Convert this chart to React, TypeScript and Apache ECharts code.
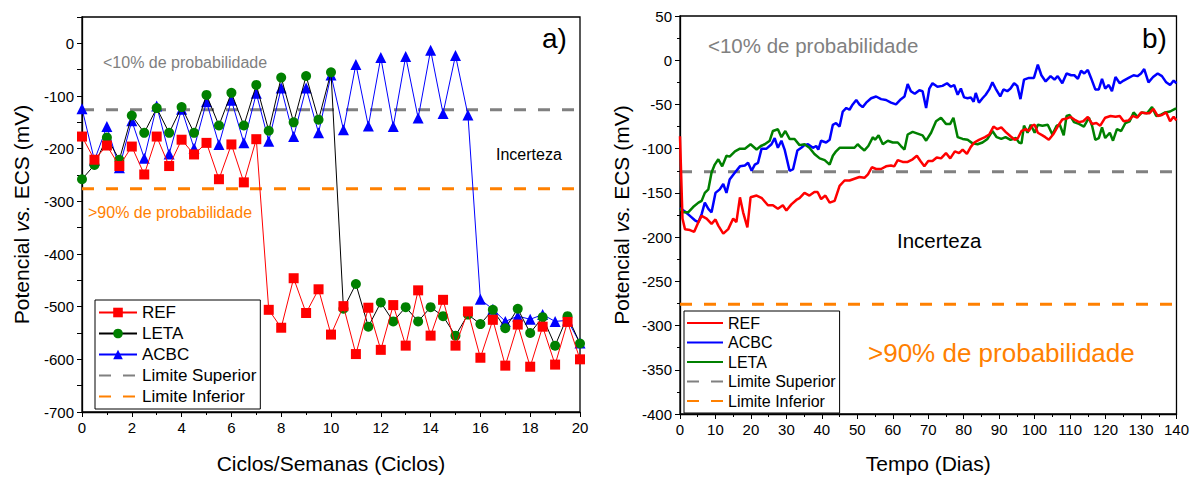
import React, { useEffect, useRef } from "react";
import * as echarts from "echarts";

const FONT = "'Liberation Sans', Arial, Helvetica, sans-serif";

// ---- Panel a) ----
const cycles = [0, 0.5, 1, 1.5, 2, 2.5, 3, 3.5, 4, 4.5, 5, 5.5, 6, 6.5, 7, 7.5, 8, 8.5, 9, 9.5, 10, 10.5, 11, 11.5, 12, 12.5, 13, 13.5, 14, 14.5, 15, 15.5, 16, 16.5, 17, 17.5, 18, 18.5, 19, 19.5, 20];
const refA = [-177, -221, -194, -233, -196, -249, -177, -233, -183, -211, -189, -258, -192, -264, -182, -506, -540, -446, -512, -467, -553, -499, -590, -502, -582, -497, -574, -469, -555, -487, -574, -509, -597, -525, -612, -534, -614, -538, -610, -529, -600];
const letaA = [-258, -231, -179, -221, -137, -170, -123, -170, -121, -170, -98, -156, -94, -156, -79, -166, -65, -150, -62, -145, -55, -504, -457, -538, -492, -528, -501, -528, -501, -518, -555, -515, -533, -506, -541, -504, -550, -520, -574, -518, -570];
const acbcA = [-124, -222, -158, -236, -147, -218, -119, -210, -125, -199, -111, -192, -108, -189, -95, -186, -85, -177, -85, -170, -60, -164, -40, -157, -27, -158, -25, -142, -13, -133, -23, -136, -486, -505, -528, -518, -524, -515, -528, -526, -569];

// ---- Panel b) ---- [day, mV]
const refB = [[0,-86],[0.7,-179],[1.4,-191],[2.8,-192],[4,-194],[5.2,-183],[6.1,-176],[7.5,-179],[8.9,-185],[10,-180],[10.8,-187],[12.2,-196],[13.6,-191],[15,-179],[15.9,-183],[16.9,-155],[17.8,-172],[19,-189],[19.9,-155],[21.6,-153],[23.1,-156],[24.8,-164],[26.2,-164],[27.6,-168],[29,-164],[30,-170],[31.4,-163],[32.8,-158],[33.7,-156],[35.1,-150],[36.5,-153],[37.9,-149],[38.8,-149],[39.8,-157],[41,-153],[42.2,-161],[43.6,-159],[45,-142],[46.4,-136],[47.8,-136],[49.2,-134],[50.6,-132],[52,-133],[53,-129],[54.1,-121],[55.3,-123],[56.7,-123],[58.1,-120],[59.5,-119],[60.4,-120],[61.4,-113],[62.8,-115],[64.2,-115],[65.6,-112],[66.8,-108],[67.8,-114],[68.9,-120],[70,-114],[71.2,-114],[72.4,-110],[73.6,-111],[75,-105],[76.2,-111],[77.5,-103],[78.7,-105],[79.7,-101],[80.9,-106],[82,-98],[83,-93],[84.3,-90],[86,-87],[87.2,-84],[88.4,-75],[89.5,-78],[90.6,-76],[91.8,-81],[93.2,-86],[94.4,-90],[95.3,-88],[96.3,-80],[97.5,-78],[98.4,-80],[99.3,-74],[100,-73],[100.9,-82],[102.2,-85],[103,-87],[104,-90],[105.2,-84],[106.5,-75],[107.8,-67],[109,-66],[110.1,-64],[111.2,-67],[112.5,-70],[113.7,-69],[115,-64],[116.2,-72],[117.4,-71],[118.5,-74],[119.9,-65],[121.4,-63],[122.8,-64],[124,-63],[125.1,-69],[126.5,-68],[127.7,-63],[128.9,-65],[130,-59],[131.2,-60],[132.4,-60],[133.5,-55],[134.7,-63],[135.9,-62],[137.1,-59],[138.2,-69],[139.2,-64],[140,-68]];
const acbcB = [[0,-167],[1.4,-171],[2.8,-176],[4.2,-181],[5.2,-183],[6.1,-174],[7,-161],[8,-168],[8.9,-172],[10,-150],[11.2,-146],[12.2,-140],[13.1,-150],[14,-135],[15.5,-127],[16.9,-120],[18.3,-119],[19.2,-116],[20.2,-125],[21.1,-118],[22,-116],[23,-100],[24.4,-100],[25.8,-95],[26.7,-88],[27.6,-99],[28.6,-91],[29.5,-101],[30.9,-125],[31.9,-123],[33.1,-102],[34.2,-99],[35.1,-96],[36.1,-95],[37.5,-99],[38.4,-97],[39,-101],[39.8,-91],[41.2,-93],[42.2,-90],[43.1,-73],[44,-71],[45,-75],[45.9,-58],[46.9,-54],[47.8,-56],[48.7,-50],[49.7,-45],[50.6,-50],[51.5,-53],[52.5,-48],[53.9,-43],[55.3,-41],[56.7,-44],[58.1,-45],[59.5,-48],[60.9,-50],[62.3,-44],[63.3,-41],[64.2,-27],[65.1,-35],[66.2,-38],[67.5,-34],[68.4,-35],[69.4,-54],[70.3,-32],[71.2,-26],[72.6,-30],[74,-29],[75.3,-26],[76.4,-30],[77.3,-28],[78.3,-39],[79.2,-32],[80.1,-42],[81.1,-43],[82,-42],[82.8,-47],[83.4,-37],[84.3,-48],[85.3,-43],[86.2,-39],[87.2,-33],[88.1,-25],[89,-32],[90.3,-41],[91.2,-33],[92.3,-35],[93.2,-32],[94.2,-26],[95.1,-29],[96,-44],[97,-22],[98.4,-20],[99.8,-20],[100.9,-5],[101.9,-17],[103.1,-24],[104.5,-18],[105.6,-22],[106.5,-18],[107.8,-26],[109,-15],[110.3,-17],[111.2,-17],[112.2,-21],[113.1,-12],[114,-15],[115,-11],[115.9,-20],[117.1,-33],[118.1,-33],[119,-21],[119.9,-32],[120.9,-28],[121.8,-35],[122.8,-19],[124,-26],[125.1,-23],[126.5,-20],[127.9,-17],[129,-18],[130,-15],[130.9,-10],[132.1,-25],[133.4,-19],[134.7,-15],[135.9,-18],[137.1,-25],[138.2,-28],[139.2,-23],[140,-26]];
const letaB = [[0,-168],[1,-172],[2.3,-172],[3.7,-166],[5.2,-161],[6.1,-159],[7,-150],[8,-146],[8.9,-127],[9.8,-118],[10.8,-112],[11.9,-120],[13.1,-108],[14,-109],[15.5,-103],[16.9,-100],[18.3,-100],[19.9,-95],[21.6,-101],[22.8,-97],[23.9,-95],[25.3,-91],[26.2,-80],[27.6,-78],[28.6,-87],[29.7,-80],[30.9,-89],[32.3,-89],[33.7,-96],[35.1,-95],[36.5,-99],[37.9,-106],[39.4,-111],[40.8,-113],[42.2,-118],[43.1,-108],[44,-103],[45,-99],[46.4,-99],[47.8,-99],[49.2,-99],[50.1,-95],[51.1,-99],[52,-102],[53.1,-97],[54.4,-87],[55,-90],[56,-85],[57.2,-95],[58.6,-91],[60,-93],[61.4,-93],[62.3,-97],[63.3,-101],[64.2,-84],[65.6,-81],[67,-83],[68.4,-85],[69.4,-91],[70.8,-82],[72.2,-69],[73.6,-65],[75,-72],[76.2,-72],[77.1,-65],[78.3,-87],[79.7,-89],[81.1,-90],[82.5,-94],[83.9,-95],[85.3,-93],[86.7,-89],[88.1,-80],[89.3,-87],[90.6,-89],[91.8,-87],[93.2,-90],[94.7,-88],[95.6,-93],[96.3,-94],[97,-74],[98,-82],[98.9,-73],[100,-82],[100.9,-73],[102.2,-74],[103.7,-73],[105,-84],[106.2,-74],[107.1,-73],[108.2,-85],[109,-63],[109.9,-62],[111.1,-70],[112.5,-72],[113.9,-75],[115.3,-65],[116.2,-74],[117.1,-90],[118.1,-88],[119,-76],[119.9,-88],[121.2,-82],[122.1,-91],[123.2,-78],[124.4,-80],[125.6,-71],[126.8,-69],[127.9,-59],[129,-64],[130.3,-59],[131.7,-60],[133.1,-53],[134.3,-63],[135.4,-62],[136.8,-59],[138.2,-58],[139.6,-55],[140,-55]];

const limitSup = -126;
const limitInf = -276;
const cycleRange = [0, 20];
const dayRange = [0, 140];

const C_RED = "#FF0000";
const C_GREEN = "#008000";
const C_BLUE = "#0000FF";
const C_GRAY = "#808080";
const C_ORANGE = "#FF8000";

const legendNamesB: Record<string, string> = {
  "REF_b": "REF",
  "ACBC_b": "ACBC",
  "LETA_b": "LETA",
  "Sup_b": "Limite Superior",
  "Inf_b": "Limite Inferior",
};

export default function App() {
  const ref = useRef<HTMLDivElement>(null);
  useEffect(() => {
    if (!ref.current) return;
    const chart = echarts.init(ref.current, undefined, { renderer: "svg" });
    const zip = (xs: number[], ys: number[]) => xs.map((x, i) => [x, ys[i]]);
    const nameStyle = { color: "#000", fontSize: 21, fontFamily: FONT };
    const axisCommon = {
      axisLine: { show: true, onZero: false, lineStyle: { color: "#000", width: 1.3 } },
      axisTick: { show: true, length: 5, lineStyle: { color: "#000" } },
      splitLine: { show: false },
      axisLabel: { color: "#000", fontSize: 15, fontFamily: FONT },
      nameTextStyle: nameStyle,
    };
    const yName = {
      name: "Potencial {i|vs.} ECS (mV)",
      nameLocation: "middle" as const,
      nameTextStyle: {
        ...nameStyle,
        rich: { i: { ...nameStyle, fontStyle: "italic" } },
      },
    };
    const noSym = { itemStyle: { opacity: 0 } };
    const limitSeries = (name: string, val: number, color: string, xr: number[], xi: number) => ({
      name,
      type: "line",
      xAxisIndex: xi,
      yAxisIndex: xi,
      data: [[xr[0], val], [xr[1], val]],
      symbol: "none",
      lineStyle: { color, width: 3, type: [12, 12] },
      itemStyle: { color },
      z: 1,
    });
    const option: any = {
      animation: false,
      backgroundColor: "#fff",
      grid: [
        { left: 82, top: 17, width: 498, height: 397, show: true, borderColor: "#000", borderWidth: 1.3, backgroundColor: "transparent" },
        { left: 680, top: 16, width: 498, height: 400, show: true, borderColor: "#000", borderWidth: 1.3, backgroundColor: "transparent" },
      ],
      xAxis: [
        {
          ...axisCommon,
          gridIndex: 0, type: "value", min: 0, max: 20, interval: 2,
          minorTick: { show: true, splitNumber: 2, length: 3, lineStyle: { color: "#000" } },
          name: "Ciclos/Semanas (Ciclos)", nameLocation: "middle", nameGap: 41,
        },
        {
          ...axisCommon,
          gridIndex: 1, type: "value", min: 0, max: 140, interval: 10,
          minorTick: { show: true, splitNumber: 2, length: 3, lineStyle: { color: "#000" } },
          name: "Tempo (Dias)", nameLocation: "middle", nameGap: 39,
        },
      ],
      yAxis: [
        {
          ...axisCommon,
          ...yName,
          gridIndex: 0, type: "value", min: -700, max: 50, interval: 50,
          axisLabel: {
            ...axisCommon.axisLabel,
            formatter: (v: number) => (v % 100 === 0 && v <= 0 ? String(v) : ""),
          },
          nameGap: 50,
        },
        {
          ...axisCommon,
          ...yName,
          gridIndex: 1, type: "value", min: -400, max: 50, interval: 50,
          minorTick: { show: true, splitNumber: 2, length: 3, lineStyle: { color: "#000" } },
          nameGap: 48,
        },
      ],
      legend: [
        {
          left: 95, top: 300, orient: "vertical",
          backgroundColor: "#fff", borderColor: "#000", borderWidth: 1, borderRadius: 0,
          padding: [4, 4, 4, 3],
          itemWidth: 38, itemHeight: 12, itemGap: 4,
          textStyle: { fontSize: 17, fontFamily: FONT, color: "#000", lineHeight: 17 },
          data: [
            "REF", "LETA", "ACBC",
            { name: "Limite Superior", ...noSym },
            { name: "Limite Inferior", ...noSym },
          ],
        },
        {
          left: 684, top: 311, orient: "vertical",
          backgroundColor: "#fff", borderColor: "#000", borderWidth: 1, borderRadius: 0,
          padding: [4, 4, 4, 2],
          itemWidth: 36, itemHeight: 10, itemGap: 3.5,
          textStyle: { fontSize: 16, fontFamily: FONT, color: "#000", lineHeight: 16 },
          formatter: (n: string) => legendNamesB[n] || n,
          data: [
            { name: "REF_b", ...noSym },
            { name: "ACBC_b", ...noSym },
            { name: "LETA_b", ...noSym },
            { name: "Sup_b", ...noSym },
            { name: "Inf_b", ...noSym },
          ],
        },
      ],
      series: [
        limitSeries("Limite Superior", limitSup, C_GRAY, cycleRange, 0),
        limitSeries("Limite Inferior", limitInf, C_ORANGE, cycleRange, 0),
        {
          name: "ACBC", type: "line", xAxisIndex: 0, yAxisIndex: 0,
          data: zip(cycles, acbcA), symbol: "triangle", symbolSize: 11,
          lineStyle: { color: C_BLUE, width: 1 }, itemStyle: { color: C_BLUE }, z: 2,
        },
        {
          name: "LETA", type: "line", xAxisIndex: 0, yAxisIndex: 0,
          data: zip(cycles, letaA), symbol: "circle", symbolSize: 10,
          lineStyle: { color: "#000", width: 1 }, itemStyle: { color: C_GREEN }, z: 3,
        },
        {
          name: "REF", type: "line", xAxisIndex: 0, yAxisIndex: 0,
          data: zip(cycles, refA), symbol: "rect", symbolSize: 10,
          lineStyle: { color: C_RED, width: 1 }, itemStyle: { color: C_RED }, z: 4,
        },
        limitSeries("Sup_b", limitSup, C_GRAY, dayRange, 1),
        limitSeries("Inf_b", limitInf, C_ORANGE, dayRange, 1),
        {
          name: "ACBC_b", type: "line", xAxisIndex: 1, yAxisIndex: 1,
          data: acbcB, symbol: "none", lineStyle: { color: C_BLUE, width: 2.5 }, itemStyle: { color: C_BLUE }, z: 2,
        },
        {
          name: "LETA_b", type: "line", xAxisIndex: 1, yAxisIndex: 1,
          data: letaB, symbol: "none", lineStyle: { color: C_GREEN, width: 2.5 }, itemStyle: { color: C_GREEN }, z: 3,
        },
        {
          name: "REF_b", type: "line", xAxisIndex: 1, yAxisIndex: 1,
          data: refB, symbol: "none", lineStyle: { color: C_RED, width: 2.5 }, itemStyle: { color: C_RED }, z: 4,
        },
      ],
      graphic: [
        { type: "text", x: 103, y: 62, style: { text: "<10% de probabilidade", fill: C_GRAY, fontSize: 16, fontFamily: FONT, verticalAlign: "middle" } },
        { type: "text", x: 88, y: 212, style: { text: ">90% de probabilidade", fill: C_ORANGE, fontSize: 16, fontFamily: FONT, verticalAlign: "middle" } },
        { type: "text", x: 496, y: 154, style: { text: "Incerteza", fill: "#000", fontSize: 16, fontFamily: FONT, verticalAlign: "middle" } },
        { type: "text", x: 542, y: 38, style: { text: "a)", fill: "#000", fontSize: 28, fontFamily: FONT, verticalAlign: "middle" } },
        { type: "text", x: 708, y: 45, style: { text: "<10% de probabilidade", fill: C_GRAY, fontSize: 20.5, fontFamily: FONT, verticalAlign: "middle" } },
        { type: "text", x: 897, y: 240, style: { text: "Incerteza", fill: "#000", fontSize: 20.5, fontFamily: FONT, verticalAlign: "middle" } },
        { type: "text", x: 868, y: 353, style: { text: ">90% de probabilidade", fill: C_ORANGE, fontSize: 26, fontFamily: FONT, verticalAlign: "middle" } },
        { type: "text", x: 1142, y: 38, style: { text: "b)", fill: "#000", fontSize: 28, fontFamily: FONT, verticalAlign: "middle" } },
      ],
    };
    chart.setOption(option);
    return () => chart.dispose();
  }, []);
  return <div ref={ref} style={{ position: "absolute", left: 0, top: 0, width: 1192, height: 479 }} />;
}
